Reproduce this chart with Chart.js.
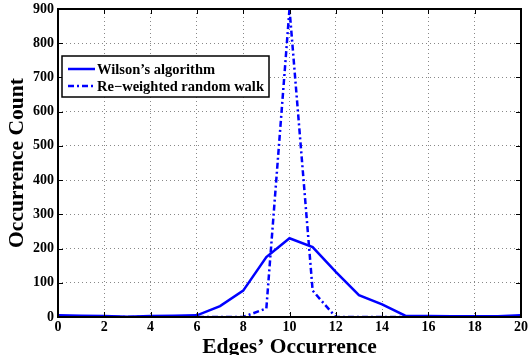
<!DOCTYPE html>
<html><head><meta charset="utf-8">
<script src="https://cdn.jsdelivr.net/npm/chart.js@4.4.0/dist/chart.umd.min.js"></script>
<style>html,body{margin:0;padding:0;background:#fff}#wrap{width:530px;height:355px}</style>
</head><body><div id="wrap"><canvas id="c" width="530" height="355"></canvas></div>
<script>
const xValues = [0,1,2,3,4,5,6,7,8,9,10,11,12,13,14,15,16,17,18,19,20];
const wilson = [5,4,3,1,3,4,5,32,77,175,230,204,132,64,37,4,3,2,2,2,5];
const reweighted = [0,0,0,0,0,0,0,0,0,25,900,77,0,0,0,0,0,0,0,0,0];
const seriesNames = ["Wilson\u2019s algorithm", "Re\u2212weighted random walk"];
const xTicks = [0,2,4,6,8,10,12,14,16,18,20];
const yTicks = [0,100,200,300,400,500,600,700,800,900];

const FONT = "'Liberation Serif', 'Times New Roman', serif";
const toPts = ys => xValues.map((x,i)=>({x, y: ys[i]}));

const framePlugin = {
  id: 'frame',
  afterDatasetsDraw(chart) {
    const {ctx, chartArea: a, scales} = chart;
    ctx.save();
    ctx.strokeStyle = '#000';
    ctx.lineWidth = 2;
    ctx.strokeRect(a.left, a.top, a.right - a.left, a.bottom - a.top);
    ctx.lineWidth = 1;
    const tl = 5;
    ctx.beginPath();
    xTicks.forEach(v => {
      const px = Math.round(scales.x.getPixelForValue(v)) + 0.5;
      ctx.moveTo(px, a.bottom); ctx.lineTo(px, a.bottom - tl);
      ctx.moveTo(px, a.top); ctx.lineTo(px, a.top + tl);
    });
    yTicks.forEach(v => {
      const py = Math.round(scales.y.getPixelForValue(v)) + 0.5;
      ctx.moveTo(a.left, py); ctx.lineTo(a.left + tl, py);
      ctx.moveTo(a.right, py); ctx.lineTo(a.right - tl, py);
    });
    ctx.stroke();

    // legend
    const lx = a.left + 4, ly = 56, lw = 207, lh = 41;
    ctx.fillStyle = '#fff';
    ctx.fillRect(lx, ly, lw, lh);
    ctx.lineWidth = 1.5;
    ctx.strokeStyle = '#000';
    ctx.strokeRect(lx, ly, lw, lh);
    ctx.font = "bold 14.5px " + FONT;
    ctx.textBaseline = 'middle';
    chart.data.datasets.forEach((ds, i) => {
      const y = ly + 13 + i * 17;
      ctx.strokeStyle = ds.borderColor;
      ctx.lineWidth = ds.borderWidth;
      ctx.setLineDash(ds.borderDash || []);
      ctx.beginPath(); ctx.moveTo(lx + 6, y); ctx.lineTo(lx + 33, y); ctx.stroke();
      ctx.setLineDash([]);
      ctx.fillStyle = '#000';
      ctx.fillText(ds.label, lx + 35, y + 1);
    });
    ctx.restore();
  }
};

new Chart(document.getElementById('c'), {
  type: 'line',
  data: {
    datasets: [
      { label: seriesNames[0], data: toPts(wilson), borderColor: '#0000ff', borderWidth: 2.5, pointRadius: 0, tension: 0, fill: false },
      { label: seriesNames[1], data: toPts(reweighted), borderColor: '#0000ff', borderWidth: 2.5, borderDash: [6,3,2,3], pointRadius: 0, tension: 0, fill: false }
    ]
  },
  options: {
    responsive: false,
    animation: false,
    layout: { padding: { top: 9, right: 0, bottom: 0, left: 0 } },
    plugins: { legend: { display: false }, tooltip: { enabled: false } },
    scales: {
      x: {
        type: 'linear', min: 0, max: 20,
        afterBuildTicks: s => { s.ticks = xTicks.map(v => ({value: v})); },
        afterFit: s => { s.height = 38; },
        grid: { color: '#888', drawTicks: false, lineWidth: 1 },
        border: { display: false, dash: [1,3] },
        ticks: { color: '#000', font: { family: FONT, size: 14, weight: 'bold' }, padding: 2, maxRotation: 0 },
        title: { display: true, text: "Edges\u2019 Occurrence", color: '#000', font: { family: FONT, size: 21.5, weight: 'bold' }, padding: { top: 0, bottom: -5 } }
      },
      y: {
        type: 'linear', min: 0, max: 900,
        afterBuildTicks: s => { s.ticks = yTicks.map(v => ({value: v})); },
        afterFit: s => { s.width = 58; s.paddingTop = 0; s.paddingBottom = 0; },
        grid: { color: '#888', drawTicks: false, lineWidth: 1 },
        border: { display: false, dash: [1,3] },
        ticks: { color: '#000', font: { family: FONT, size: 14, weight: 'bold' }, padding: 4 },
        title: { display: true, text: "Occurrence Count", color: '#000', font: { family: FONT, size: 21.5, weight: 'bold' }, padding: { top: 5, bottom: 0 } }
      }
    }
  },
  plugins: [framePlugin]
});
</script></body></html>
